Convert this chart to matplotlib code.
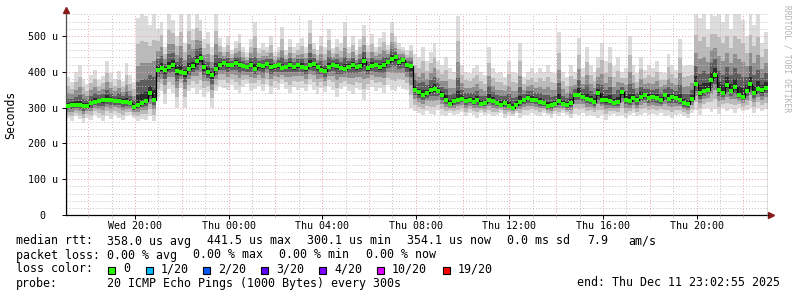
import numpy as np
import matplotlib
matplotlib.use("Agg")
import matplotlib.pyplot as plt
from matplotlib.ticker import MultipleLocator, FixedLocator

# smokeping graph, 30 hours, values in microseconds, one value per 10 minutes
t_start = 17 + 2 / 60 + 55 / 3600   # Wed 17:02:55, hours since Wed 00:00
bin_h = 1 / 6

median_us = [
    304, 308, 307, 306, 303, 305, 312, 316, 318, 320,
    322, 320, 317, 318, 316, 314, 312, 302, 308, 312,
    318, 340, 322, 405, 410, 405, 412, 420, 402, 400,
    395, 408, 415, 430, 438, 412, 398, 390, 408, 420,
    424, 418, 420, 425, 418, 416, 412, 420, 408, 418,
    415, 422, 412, 415, 418, 410, 414, 420, 412, 418,
    414, 410, 420, 422, 412, 406, 402, 412, 420, 416,
    410, 408, 414, 418, 412, 416, 430, 410, 416, 420,
    412, 418, 428, 436, 440, 426, 432, 418, 415, 350,
    342, 335, 340, 348, 352, 345, 335, 322, 310, 318,
    320, 325, 318, 322, 316, 320, 310, 312, 322, 318,
    312, 308, 312, 304, 300, 308, 314, 320, 326, 322,
    320, 316, 312, 304, 306, 310, 318, 310, 306, 312,
    334, 336, 330, 324, 320, 316, 340, 322, 320, 318,
    312, 316, 342, 322, 318, 326, 320, 330, 334, 326,
    328, 326, 320, 335, 324, 328, 326, 320, 312, 310,
    325, 366, 340, 345, 350, 378, 392, 348, 340, 362,
    345, 358, 335, 330, 345, 365, 340, 352, 348, 355,
]

max_us = [
    385, 372, 398, 420, 380, 365, 392, 405, 378, 388,
    430, 395, 380, 402, 375, 425, 390, 372, 550, 560,
    555, 530, 560, 520, 540, 470, 560, 545, 500, 560,
    480, 560, 520, 560, 545, 490, 510, 470, 560, 495,
    470, 500, 460, 485, 505, 470, 455, 490, 540, 465,
    480, 470, 500, 455, 470, 525, 460, 490, 470, 480,
    495, 470, 545, 480, 460, 500, 470, 520, 465, 490,
    480, 540, 470, 500, 460, 490, 530, 475, 505, 470,
    495, 510, 475, 540, 500, 480, 470, 460, 475, 450,
    440, 470, 430, 455, 480, 430, 420, 440, 410, 400,
    555, 420, 400, 395, 410, 420, 400, 390, 470, 410,
    395, 400, 385, 430, 400, 395, 480, 385, 400, 410,
    395, 410, 400, 420, 400, 395, 510, 400, 385, 420,
    400, 495, 410, 470, 420, 400, 440, 480, 430, 470,
    415, 440, 400, 410, 500, 420, 395, 440, 405, 420,
    410, 430, 400, 395, 450, 420, 405, 490, 415, 420,
    420, 560, 550, 560, 520, 560, 555, 560, 540, 560,
    520, 560, 560, 545, 500, 560, 530, 560, 480, 510,
]

min_us = [
    270, 262, 275, 268, 258, 272, 265, 278, 270, 262,
    275, 268, 280, 272, 265, 275, 278, 270, 262, 268,
    265, 275, 262, 330, 345, 310, 352, 340, 298, 355,
    300, 345, 355, 338, 350, 330, 342, 298, 345, 360,
    355, 348, 362, 350, 340, 358, 365, 345, 352, 360,
    345, 362, 338, 355, 348, 365, 352, 340, 358, 350,
    355, 345, 362, 350, 338, 355, 342, 360, 350, 330,
    352, 360, 345, 338, 355, 350, 320, 348, 358, 345,
    355, 340, 362, 350, 345, 360, 352, 348, 300, 290,
    285, 280, 290, 282, 278, 292, 280, 275, 285, 278,
    282, 288, 276, 285, 280, 272, 285, 278, 282, 275,
    278, 285, 270, 280, 276, 284, 272, 280, 278, 285,
    280, 275, 284, 278, 272, 282, 276, 285, 278, 270,
    282, 278, 285, 275, 280, 276, 272, 280, 265, 278,
    282, 276, 280, 270, 278, 284, 275, 280, 285, 278,
    282, 278, 285, 276, 280, 272, 278, 282, 275, 270,
    285, 292, 280, 295, 300, 288, 295, 282, 298, 290,
    295, 285, 300, 290, 292, 298, 285, 300, 290, 295,
]

tick_hours = [20, 24, 28, 32, 36, 40, 44]
tick_labels = ['Wed 20:00', 'Thu 00:00', 'Thu 04:00', 'Thu 08:00',
               'Thu 12:00', 'Thu 16:00', 'Thu 20:00']
y_ticks = [0, 100, 200, 300, 400, 500]
y_labels = ['0  ', '100 u', '200 u', '300 u', '400 u', '500 u']

loss_names = ['0', '1/20', '2/20', '3/20', '4/20', '10/20', '19/20']
loss_colors = ['#26ff00', '#00b8ff', '#0059ff', '#5e00ff', '#7e00ff', '#dd00ff', '#ff0000']

# smoke shades: fraction of the way from median out to min/max
shade_frac = [1.0, 0.7, 0.45, 0.26, 0.11]
shade_col = ['#dcdcdc', '#bababa', '#8e8e8e', '#5e5e5e', '#2c2c2c']

W, H = 797, 297
mono = 'DejaVu Sans Mono'
plt.rcParams['font.family'] = mono

med = np.array(median_us, float)
hi = np.array(max_us, float)
lo = np.array(min_us, float)
edges = t_start + np.arange(len(med) + 1) * bin_h
mids = (edges[:-1] + edges[1:]) / 2

fig = plt.figure(figsize=(W / 100, H / 100), dpi=100, facecolor='white')
ax = fig.add_axes([66 / W, 1 - 215 / H, 702 / W, 201 / H])

for f, c in zip(shade_frac, shade_col):
    ax.stairs(med + f * (hi - med), edges, baseline=med - f * (med - lo),
              fill=True, color=c, lw=0, zorder=1)

ax.stairs(med, edges, color='black', lw=0.9, zorder=3)
ax.plot(mids, med, ls='none', marker='s', ms=2.3, mew=0, color=loss_colors[0], zorder=4)

ax.set_xlim(edges[0], edges[-1])
ax.set_ylim(0, 561)

# grid, drawn over the smoke like rrdtool does
ax.set_axisbelow(False)
ax.xaxis.set_major_locator(FixedLocator(tick_hours))
ax.set_xticklabels(tick_labels, fontsize=7.2)
ax.xaxis.set_minor_locator(MultipleLocator(1))
ax.yaxis.set_major_locator(FixedLocator(y_ticks))
ax.set_yticklabels(y_labels, fontsize=7.2)
ax.yaxis.set_minor_locator(MultipleLocator(20))

for h in np.arange(18, 47, 2):
    ax.axvline(h, color='#eea0a0', lw=0.7, ls=(0, (1, 2)), zorder=2.5)
for h in np.arange(18, 48, 2) - 1:
    if edges[0] < h < edges[-1]:
        ax.axvline(h, color='#c0c0c0', lw=0.7, ls=(0, (1, 2)), zorder=2.5)
for v in range(20, 561, 20):
    col = '#eea0a0' if v % 100 == 0 else '#c0c0c0'
    ax.axhline(v, color=col, lw=0.7, ls=(0, (1, 2)), zorder=2.5)

ax.tick_params(axis='both', which='major', length=3, width=0.7, colors='black')
ax.tick_params(axis='x', which='major', pad=1.5)
ax.tick_params(axis='y', which='major', pad=3)
ax.tick_params(axis='x', which='minor', length=2, width=0.6, color='#c0c0c0')
ax.tick_params(axis='y', which='minor', length=0)

for s in ['top', 'right']:
    ax.spines[s].set_visible(False)
ax.spines['left'].set_color('#505050')
ax.spines['bottom'].set_color('black')
ax.spines['left'].set_linewidth(0.9)
ax.spines['bottom'].set_linewidth(0.9)
ax.plot([0], [1.02], marker='^', ms=4, color='#8b1a1a', transform=ax.transAxes, clip_on=False)
ax.plot([1.004], [0], marker='>', ms=4, color='#8b1a1a', transform=ax.transAxes, clip_on=False)

ax.set_ylabel('Seconds', fontsize=8.3)
ax.yaxis.set_label_coords(-(66 - 17) / 702, 0.5)

fig.text(787 / W, 1 - 5 / H, 'RRDTOOL / TOBI OETIKER', rotation=270, fontsize=5.8,
         color='#b4b4b4', ha='center', va='top')


def txt(x, y, s, **kw):
    fig.text(x / W, 1 - y / H, s, fontsize=8.35, va='center', ha='left', **kw)


txt(16, 241, 'median rtt:')
for x, s in [(107, '358.0 us avg'), (207, '441.5 us max'), (307, '300.1 us min'),
             (407, '354.1 us now'), (507, '0.0 ms sd'), (587, '7.9'), (628, 'am/s')]:
    txt(x, 241, s)

txt(16, 255, 'packet loss:')
for x, s in [(107, '0.00 % avg'), (193, '0.00 % max'), (279, '0.00 % min'), (366, '0.00 % now')]:
    txt(x, 255, s)

txt(16, 269, 'loss color:')
box_x = [108, 146, 203, 261, 319, 377, 443]
for bx, name, col in zip(box_x, loss_names, loss_colors):
    fig.patches.append(plt.Rectangle((bx / W, 1 - 273.5 / H), 7 / W, 7 / H,
                                     transform=fig.transFigure, facecolor=col,
                                     edgecolor='black', lw=0.8))
    txt(bx + 15, 269, name)

txt(16, 283, 'probe:')
txt(107, 283, '20 ICMP Echo Pings (1000 Bytes) every 300s')
fig.text(780 / W, 1 - 283 / H, 'end: Thu Dec 11 23:02:55 2025', fontsize=8.35,
         va='center', ha='right')

fig.savefig('out.png', dpi=100, facecolor='white')
